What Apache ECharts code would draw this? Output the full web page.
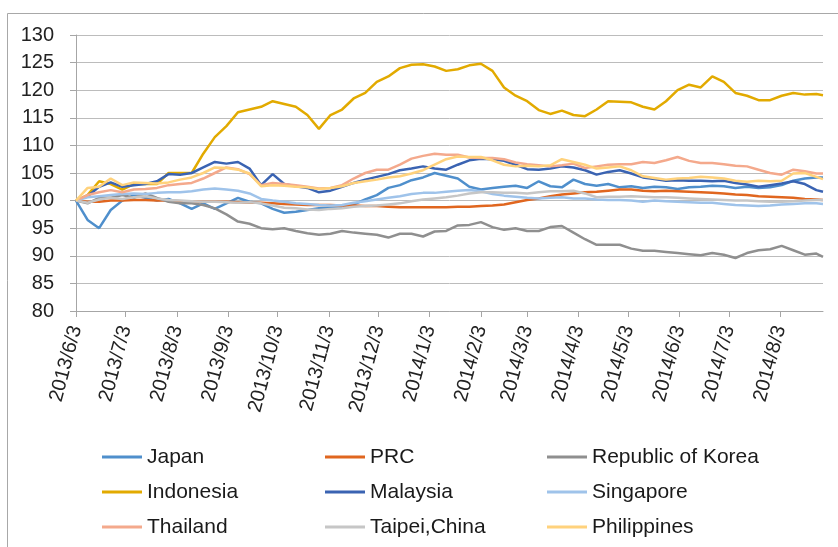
<!DOCTYPE html>
<html>
<head>
<meta charset="utf-8">
<script src="https://cdn.jsdelivr.net/npm/echarts@6/dist/echarts.min.js"></script>
<style>
  html, body { margin: 0; padding: 0; background: #ffffff; }
  #chart { width: 838px; height: 547px; }
</style>
</head>
<body>
<div id="chart"></div>
<script>
// Daily index values (2013/6/3 = 100), sampled once a week from 2013/6/3, last point 2014/8/29
const firstDay = '2013/6/3';
const lastDay = '2014/8/29';

const japan = [
  100, 96.5, 95, 98.3, 100, 101, 100.5, 100, 100.3, 99.5,
  98.5, 99.5, 98.5, 99.5, 100.5, 99.8, 99.5, 98.5, 97.8, 98,
  98.3, 98.6, 98.7, 98.7, 99.3, 100.2, 101, 102.3, 102.8, 103.7,
  104.2, 105, 104.5, 104, 102.5, 102, 102.3, 102.5, 102.7, 102.3,
  103.5, 102.6, 102.4, 103.8, 103, 102.7, 103, 102.4, 102.6, 102.3,
  102.5, 102.4, 102.1, 102.4, 102.5, 102.7, 102.6, 102.3, 102.5, 102.3,
  102.4, 102.8, 103.6, 104, 104.2, 104.2
];
const prc = [
  100, 99.8, 99.8, 100, 100, 100.1, 100.1, 100, 100, 99.9,
  99.9, 99.8, 99.8, 99.8, 99.7, 99.6, 99.6, 99.5, 99.4, 99.3,
  99.2, 99.2, 99.2, 99.1, 99.1, 99, 99, 98.9, 98.8, 98.8,
  98.8, 98.8, 98.8, 98.9, 98.9, 99, 99.1, 99.3, 99.7, 100.1,
  100.4, 100.8, 101.1, 101.3, 101.5, 101.6, 101.8, 102, 102, 101.8,
  101.7, 101.8, 101.7, 101.6, 101.5, 101.4, 101.3, 101.1, 101, 100.8,
  100.7, 100.6, 100.5, 100.3, 100.2, 100.1
];
const korea = [
  100, 99.5, 100.5, 100.5, 101, 100.5, 101.3, 100.5, 99.8, 99.5,
  99.5, 99.2, 98.6, 97.5, 96.2, 95.8, 95, 94.8, 95, 94.5,
  94.1, 93.8, 94, 94.5, 94.2, 94, 93.8, 93.3, 94, 94,
  93.5, 94.4, 94.5, 95.5, 95.6, 96.1, 95.2, 94.7, 95, 94.5,
  94.5, 95.2, 95.4, 94.2, 93, 92, 92, 92, 91.3, 90.9,
  90.9, 90.7, 90.5, 90.3, 90.1, 90.5, 90.2, 89.6, 90.5, 91,
  91.2, 91.8, 91, 90.2, 90.4, 89.8
];
const indonesia = [
  100, 101, 103.5, 103, 102, 103, 103, 103, 105, 105,
  105, 108.5, 111.5, 113.5, 116, 116.5, 117, 118, 117.5, 117,
  115.5, 113, 115.5, 116.5, 118.5, 119.5, 121.5, 122.5, 124, 124.6,
  124.7, 124.3, 123.5, 123.8, 124.5, 124.8, 123.5, 120.5, 119, 118,
  116.4, 115.7, 116.3, 115.5, 115.3, 116.5, 118, 117.9, 117.8, 117,
  116.5, 118, 120, 121, 120.5, 122.5, 121.5, 119.5, 119, 118.2,
  118.2, 119, 119.5, 119.2, 119.3, 119.1
];
const malaysia = [
  100, 100.8, 102.5, 103.3, 102.5, 102.8, 103, 103.5, 104.8, 104.7,
  105, 106, 107, 106.7, 107, 105.8, 102.8, 104.8, 103, 102.6,
  102.3, 101.5, 101.8, 102.5, 103.2, 103.8, 104.3, 104.8, 105.5, 105.8,
  106.2, 105.8, 105.6, 106.5, 107.3, 107.6, 107.5, 107.2, 106.5, 105.7,
  105.6, 105.8, 106.2, 106, 105.5, 104.7, 105.2, 105.5, 104.9, 104.2,
  103.9, 103.6, 103.7, 103.6, 103.6, 103.5, 103.6, 103.2, 102.9, 102.5,
  102.8, 103.1, 103.5, 103, 101.9, 101.6
];
const singapore = [
  100, 100.6, 100.8, 101, 101.2, 101.3, 101.2, 101.4, 101.5, 101.5,
  101.7, 102, 102.2, 102, 101.8, 101.3, 100.3, 100, 99.8, 99.5,
  99.4, 99.2, 99.1, 99.2, 99.6, 99.9, 100.2, 100.5, 100.8, 101.2,
  101.4, 101.4, 101.6, 101.8, 101.9, 101.7, 101.2, 100.9, 100.7, 100.5,
  100.4, 100.5, 100.6, 100.4, 100.4, 100.2, 100.1, 100.1, 100, 99.8,
  100, 99.9, 99.8, 99.7, 99.6, 99.6, 99.4, 99.2, 99.1, 99,
  99.1, 99.3, 99.4, 99.5, 99.5, 99.4
];
const thailand = [
  100, 101, 101.5, 101.9, 101.5, 102, 102.1, 102.3, 102.8, 103,
  103.2, 104, 105, 106, 105.7, 104.8, 102.8, 103.2, 103, 102.8,
  102.5, 102.2, 102.3, 102.8, 104, 105, 105.6, 105.6, 106.5, 107.6,
  108.1, 108.5, 108.3, 108.3, 107.8, 107.7, 107.7, 107.5, 106.9, 106.6,
  106.4, 106.2, 106.4, 106.7, 105.9, 106.2, 106.5, 106.6, 106.6, 107,
  106.8, 107.3, 107.9, 107.2, 106.8, 106.8, 106.6, 106.3, 106.2, 105.6,
  105, 104.7, 105.6, 105.3, 104.9, 104.9
];
const taipei = [
  100, 99.6, 100.2, 100.5, 100.3, 100.6, 100.8, 100.4, 100.1, 100,
  99.9, 99.8, 99.8, 99.7, 99.6, 99.7, 99.5, 99.1, 98.7, 98.6,
  98.4, 98.3, 98.5, 98.6, 98.9, 99, 99.1, 99.3, 99.5, 99.9,
  100.2, 100.4, 100.6, 100.9, 101.3, 101.5, 101.5, 101.4, 101.4, 101.3,
  101.5, 101.7, 101.7, 101.8, 101.3, 100.6, 100.7, 100.7, 100.8, 100.7,
  100.6, 100.6, 100.5, 100.4, 100.3, 100.2, 100.1, 100, 100, 99.9,
  99.8, 99.8, 99.9, 100, 100.1, 100.1
];
const philippines = [
  100, 102.3, 102.5, 104, 102.8, 103.3, 103.2, 103.1, 103.3, 103.8,
  104.2, 105, 106, 105.9, 105.6, 104.9, 102.6, 102.8, 102.7, 102.5,
  102.4, 102.1, 102.3, 102.6, 103.2, 103.5, 103.8, 104.2, 104.4, 104.9,
  105.5, 106.5, 107.5, 108, 107.9, 107.9, 107.3, 106.5, 106.2, 106.3,
  106.2, 106.4, 107.5, 107, 106.5, 105.8, 106, 106.2, 105.5, 104.4,
  104.1, 103.8, 104, 104.1, 104.3, 104.2, 104, 103.6, 103.4, 103.6,
  103.5, 103.6, 104.9, 105, 104.3, 103.9
];

const seriesNames = ['Japan', 'PRC', 'Republic of Korea', 'Indonesia', 'Malaysia',
  'Singapore', 'Thailand', 'Taipei,China', 'Philippines'];
const seriesValues = [japan, prc, korea, indonesia, malaysia, singapore, thailand, taipei, philippines];
const seriesColors = ['#4f8fcc', '#e0661f', '#8f8f8f', '#e2aa00', '#3a63b2',
  '#9fc3ea', '#f4a98c', '#c6c6c6', '#ffd27c'];

// y-axis range
const yMin = 80, yMax = 130, yStep = 5;

// calendar-day category axis
const DAY = 86400000;
function parseDay(s) { const p = s.split('/').map(Number); return Date.UTC(p[0], p[1] - 1, p[2]); }
function fmtDay(t) { const d = new Date(t); return d.getUTCFullYear() + '/' + (d.getUTCMonth() + 1) + '/' + d.getUTCDate(); }
const t0 = parseDay(firstDay), t1 = parseDay(lastDay);
const days = [];
for (let t = t0; t <= t1; t += DAY) days.push(fmtDay(t));

// positions of the weekly samples on that axis
const sampleIdx = [];
for (let i = 0; i < japan.length - 1; i++) sampleIdx.push(i * 7);
sampleIdx.push(days.length - 1);

const isMonthMark = (idx, val) => val.split('/')[2] === '3';
const FONT = "'Liberation Sans', Arial, sans-serif";

const chart = echarts.init(document.getElementById('chart'), null, { renderer: 'canvas' });

const legendCols = [
  { left: 102, names: ['Japan', 'Indonesia', 'Thailand'] },
  { left: 325, names: ['PRC', 'Malaysia', 'Taipei,China'] },
  { left: 547, names: ['Republic of Korea', 'Singapore', 'Philippines'] }
];

chart.setOption({
  animation: false,
  backgroundColor: '#ffffff',
  color: seriesColors,
  graphic: [{
    type: 'rect', silent: true, z: 0,
    shape: { x: 7.5, y: 13.5, width: 1200, height: 1200 },
    style: { fill: 'none', stroke: '#a8a8a8', lineWidth: 1 }
  }],
  grid: { left: 76, right: 15, top: 35, bottom: 236 },
  legend: legendCols.map(c => ({
    orient: 'vertical',
    left: c.left,
    top: 446,
    padding: 0,
    itemGap: 13,
    itemWidth: 40,
    itemHeight: 3,
    icon: 'rect',
    data: c.names,
    textStyle: { fontFamily: FONT, fontSize: 21, color: '#1a1a1a', lineHeight: 22 }
  })),
  xAxis: {
    type: 'category',
    data: days,
    boundaryGap: false,
    axisLine: { show: true, lineStyle: { color: '#a6a6a6', width: 1 } },
    axisTick: { show: true, interval: isMonthMark, length: 6, lineStyle: { color: '#a6a6a6' } },
    axisLabel: {
      interval: isMonthMark, rotate: 75, margin: 15,
      fontFamily: FONT, fontSize: 20, color: '#222222'
    },
    splitLine: { show: false }
  },
  yAxis: {
    type: 'value',
    min: yMin, max: yMax, interval: yStep,
    axisLine: { show: true, lineStyle: { color: '#a6a6a6', width: 1 } },
    axisTick: { show: true, length: 6, lineStyle: { color: '#a6a6a6' } },
    axisLabel: { margin: 22, fontFamily: FONT, fontSize: 20, color: '#222222' },
    splitLine: { show: true, lineStyle: { color: '#bcbcbc', width: 1 } }
  },
  series: seriesNames.map((name, s) => ({
    name: name,
    type: 'line',
    symbol: 'none',
    showSymbol: false,
    lineStyle: { width: 2.5, color: seriesColors[s] },
    itemStyle: { color: seriesColors[s] },
    data: seriesValues[s].map((v, i) => [sampleIdx[i], v])
  }))
});
</script>
</body>
</html>
